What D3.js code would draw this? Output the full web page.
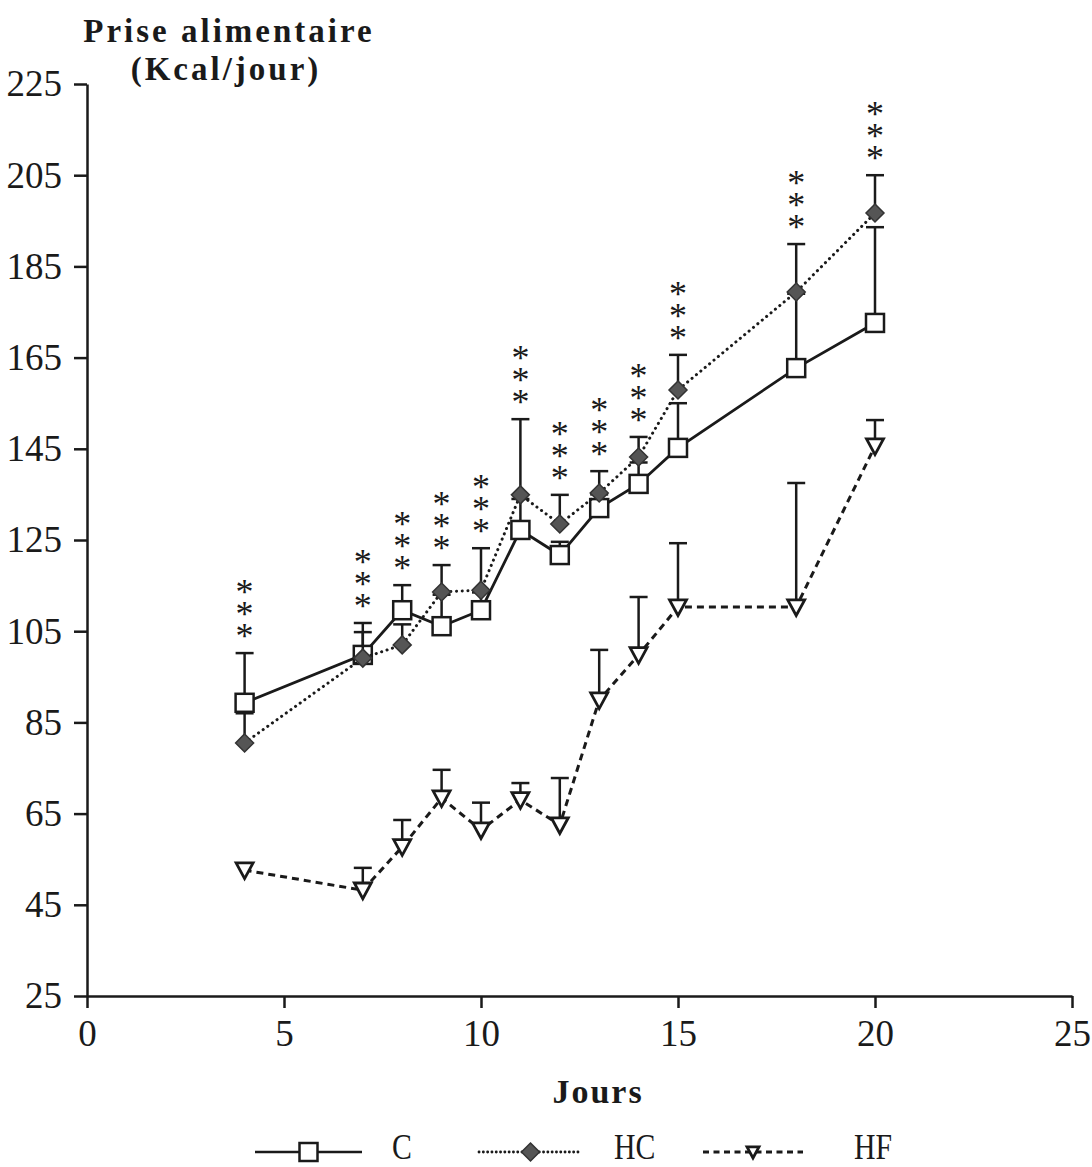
<!DOCTYPE html>
<html lang="fr">
<head>
  <meta charset="UTF-8">
  <title>Prise alimentaire</title>
  <script src="https://cdn.jsdelivr.net/npm/d3@7"></script>
  <style>
    body { margin: 0; background: #fff; }
    svg { display: block; font-family: "Liberation Serif", "Times New Roman", serif; }
  </style>
</head>
<body>
  <svg width="1092" height="1167"></svg>
  <script>
    // jours de mesure
    var jours = [4, 7, 8, 9, 10, 11, 12, 13, 14, 15, 18, 20];

    // moyennes (Kcal/jour) et haut des barres d'erreur
    var C     = [89.3, 99.8, 109.6, 106.1, 109.6, 127.2, 121.7, 132.0, 137.3, 145.2, 162.7, 172.6];
    var C_err = [100.2, 106.8, 115.1, 113.0, 113.5, 134.0, 124.6, 135.0, 142.0, 155.0, 179.0, 193.6];

    var HC     = [80.5, 99.1, 102.0, 113.6, 114.0, 134.9, 128.5, 135.3, 143.2, 157.9, 179.4, 196.7];
    var HC_err = [87.0, 104.8, 106.5, 119.5, 123.2, 151.5, 134.9, 140.1, 147.6, 165.6, 189.9, 205.0];

    var HF     = [52.6, 48.2, 57.7, 68.4, 61.4, 68.0, 62.5, 89.9, 99.8, 110.3, 110.3, 145.6];
    var HF_err = [null, 53.1, 63.6, 74.6, 67.4, 71.7, 72.8, 100.9, 112.5, 124.3, 137.5, 151.3];

    var signif = ["***", "***", "***", "***", "***", "***", "***", "***", "***", "***", "***", "***"];

    var xTicks = [0, 5, 10, 15, 20, 25];
    var yTicks = [25, 45, 65, 85, 105, 125, 145, 165, 185, 205, 225];

    var ink = "#1a1a1a";
    var svg = d3.select("svg");

    var x = d3.scaleLinear().domain([0, 25]).range([87, 1072]);
    var y = d3.scaleLinear().domain([25, 225]).range([996, 84]);

    // axes
    svg.append("g")
      .attr("transform", "translate(" + x(0) + ",0)")
      .call(d3.axisLeft(y).tickValues(yTicks).tickSize(13).tickPadding(12).tickSizeOuter(0));

    svg.append("g")
      .attr("transform", "translate(0," + y(25) + ")")
      .call(d3.axisBottom(x).tickValues(xTicks).tickSize(12).tickPadding(12).tickSizeOuter(0));

    svg.selectAll(".tick text")
      .attr("font-size", 37)
      .attr("font-family", "Liberation Serif, serif")
      .attr("fill", ink);
    svg.selectAll(".domain, .tick line")
      .attr("stroke", ink)
      .attr("stroke-width", 2.5);

    // marqueurs
    function square(g, s) {
      g.append("rect")
        .attr("x", -s).attr("y", -s).attr("width", 2 * s).attr("height", 2 * s)
        .attr("fill", "#fff").attr("stroke", ink).attr("stroke-width", 2.5);
    }
    function diamond(g, s) {
      g.append("path")
        .attr("d", "M0," + (-s) + "L" + s + ",0L0," + s + "L" + (-s) + ",0Z")
        .attr("fill", "#555").attr("stroke", "#333").attr("stroke-width", 1.5);
    }
    function triangle(g, s) {
      g.append("path")
        .attr("d", "M" + (-s) + "," + (-s * 0.85) + "L" + s + "," + (-s * 0.85) + "L0," + s + "Z")
        .attr("fill", "#fff").attr("stroke", ink).attr("stroke-width", 2.8)
        .attr("stroke-linejoin", "miter");
    }

    var series = [
      { name: "C",  values: C,  err: C_err,  dash: null,       cap: "butt",  marker: square,   size: 9 },
      { name: "HC", values: HC, err: HC_err, dash: "0.1 5.6",  cap: "round", marker: diamond,  size: 9 },
      { name: "HF", values: HF, err: HF_err, dash: "7 5",      cap: "butt",  marker: triangle, size: 8.5 }
    ];

    var line = d3.line()
      .x(function (d) { return x(d[0]); })
      .y(function (d) { return y(d[1]); });

    series.forEach(function (s) {
      var pts = jours.map(function (j, i) { return [j, s.values[i], s.err[i]]; });
      var g = svg.append("g").attr("class", "serie-" + s.name);

      // barres d'erreur (vers le haut)
      var eb = g.selectAll(".err")
        .data(pts.filter(function (d) { return d[2] != null; }))
        .enter().append("g").attr("class", "err");
      eb.append("line")
        .attr("x1", function (d) { return x(d[0]); })
        .attr("x2", function (d) { return x(d[0]); })
        .attr("y1", function (d) { return y(d[1]); })
        .attr("y2", function (d) { return y(d[2]); })
        .attr("stroke", ink).attr("stroke-width", 2.5);
      eb.append("line")
        .attr("x1", function (d) { return x(d[0]) - 9; })
        .attr("x2", function (d) { return x(d[0]) + 9; })
        .attr("y1", function (d) { return y(d[2]); })
        .attr("y2", function (d) { return y(d[2]); })
        .attr("stroke", ink).attr("stroke-width", 2.5);

      g.append("path")
        .datum(pts)
        .attr("d", line)
        .attr("fill", "none")
        .attr("stroke", ink)
        .attr("stroke-width", s.dash ? 3 : 2.8)
        .attr("stroke-linecap", s.cap)
        .attr("stroke-dasharray", s.dash);

      g.selectAll(".pt")
        .data(pts)
        .enter().append("g").attr("class", "pt")
        .attr("transform", function (d) { return "translate(" + x(d[0]) + "," + y(d[1]) + ")"; })
        .each(function () { s.marker(d3.select(this), s.size); });
    });

    // étoiles de significativité au-dessus des barres d'erreur (une colonne par jour)
    jours.forEach(function (j, i) {
      var tops = [C_err[i], HC_err[i], HF_err[i]].filter(function (v) { return v != null; });
      var yTop = y(d3.max(tops));
      var n = signif[i].length;
      var t = svg.append("text")
        .attr("text-anchor", "middle")
        .attr("font-size", 36)
        .attr("fill", ink);
      for (var k = 0; k < n; k++) {
        t.append("tspan")
          .attr("x", x(j))
          .attr("y", yTop - 5 - (n - 1 - k) * 22)
          .text("*");
      }
    });

    // titres
    var title = svg.append("text")
      .attr("text-anchor", "middle")
      .attr("font-weight", "bold")
      .attr("font-size", 33)
      .attr("letter-spacing", 3)
      .attr("fill", ink);
    title.append("tspan").attr("x", 229).attr("y", 42).text("Prise alimentaire");
    title.append("tspan").attr("x", 226).attr("y", 80).text("(Kcal/jour)");

    svg.append("text")
      .attr("x", 598).attr("y", 1103)
      .attr("text-anchor", "middle")
      .attr("font-weight", "bold")
      .attr("font-size", 34)
      .attr("letter-spacing", 2)
      .attr("fill", ink)
      .text("Jours");

    // légende
    var legend = [
      { label: "C",  x0: 255, x1: 362, tx: 392 },
      { label: "HC", x0: 479, x1: 582, tx: 614 },
      { label: "HF", x0: 703, x1: 803, tx: 854 }
    ];
    var ly = 1152;
    legend.forEach(function (l, i) {
      var s = series[i];
      var g = svg.append("g");
      g.append("line")
        .attr("x1", l.x0).attr("x2", l.x1).attr("y1", ly).attr("y2", ly)
        .attr("stroke", ink)
        .attr("stroke-width", s.dash ? 2.8 : 2.5)
        .attr("stroke-linecap", s.cap)
        .attr("stroke-dasharray", s.dash ? (i === 1 ? "0.1 4.2" : "6 4.5") : null);
      var m = g.append("g").attr("transform", "translate(" + (l.x0 + l.x1) / 2 + "," + ly + ")");
      s.marker(m, i === 2 ? 6 : 9);
      g.append("text")
        .attr("transform", "translate(" + l.tx + "," + 1159 + ") scale(0.85,1)")
        .attr("font-size", 35)
        .attr("fill", ink)
        .text(l.label);
    });
  </script>
</body>
</html>
